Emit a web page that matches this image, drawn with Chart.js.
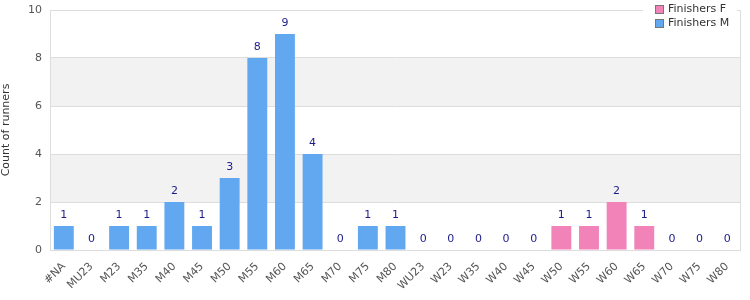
<!DOCTYPE html>
<html><head><meta charset="utf-8">
<script src="https://cdn.jsdelivr.net/npm/chart.js@4/dist/chart.umd.min.js"></script>
<style>html,body{margin:0;padding:0;background:#fff}#wrap{width:750px;height:300px;position:relative}</style>
</head><body><div id="wrap"><canvas id="c" width="750" height="300"></canvas></div>
<script>
const categories = ["#NA","MU23","M23","M35","M40","M45","M50","M55","M60","M65","M70","M75","M80","WU23","W23","W35","W40","W45","W50","W55","W60","W65","W70","W75","W80"];
const finishersM = [1,0,1,1,2,1,3,8,9,4,0,1,1,null,null,null,null,null,null,null,null,null,null,null,null];
const finishersF = [null,null,null,null,null,null,null,null,null,null,null,null,null,0,0,0,0,0,1,1,2,1,0,0,0];
const yTicks = [0,2,4,6,8,10];
const FONT = "'DejaVu Sans', Verdana, sans-serif";

const bgPlugin = {
  id: 'bg',
  beforeDraw(chart) {
    const {ctx, chartArea: a, scales: {y}} = chart;
    ctx.save();
    ctx.fillStyle = '#f2f2f2';
    [[2,4],[6,8]].forEach(([lo,hi]) => {
      const t = y.getPixelForValue(hi), b = y.getPixelForValue(lo);
      ctx.fillRect(a.left, t, a.right - a.left, b - t);
    });
    ctx.restore();
  },
  afterDatasetsDraw(chart) {
    const {ctx, chartArea: a, scales: {x, y}} = chart;
    ctx.save();
    ctx.strokeStyle = '#dddddd';
    ctx.lineWidth = 1;
    ctx.strokeRect(Math.round(a.left) + 0.5, Math.round(a.top) + 0.5, Math.round(a.right - a.left) - 1, Math.round(a.bottom - a.top));
    ctx.fillStyle = '#1c1c8c';
    ctx.font = '11px ' + FONT;
    ctx.textAlign = 'center';
    ctx.textBaseline = 'bottom';
    categories.forEach((c, i) => {
      const v = (finishersM[i] || 0) + (finishersF[i] || 0);
      const px = x.getPixelForValue(i);
      const py = y.getPixelForValue(v);
      ctx.fillText(String(v), px, py - 5);
    });
    ctx.fillStyle = '#ffffff';
    ctx.fillRect(643, 0, 94, 40);
    const items = [['Finishers F', '#f283b9'], ['Finishers M', '#61a8f1']];
    items.forEach(([t, col], k) => {
      const yy = 5 + k * 14;
      ctx.fillStyle = col;
      ctx.fillRect(655.5, yy + 0.5, 8, 8);
      ctx.strokeStyle = '#777777';
      ctx.strokeRect(655.5, yy + 0.5, 8, 8);
      ctx.fillStyle = '#333333';
      ctx.textAlign = 'left';
      ctx.textBaseline = 'middle';
      ctx.font = '11px ' + FONT;
      ctx.fillText(t, 668, yy + 4.5);
    });
    ctx.restore();
  }
};

new Chart(document.getElementById('c'), {
  type: 'bar',
  data: {
    labels: categories,
    datasets: [
      { label: 'Finishers F', data: finishersF, backgroundColor: '#f283b9', borderWidth: 0, inflateAmount: 0, barPercentage: 0.72, categoryPercentage: 1 },
      { label: 'Finishers M', data: finishersM, backgroundColor: '#61a8f1', borderWidth: 0, inflateAmount: 0, barPercentage: 0.72, categoryPercentage: 1 }
    ]
  },
  options: {
    responsive: false,
    animation: false,
    layout: { padding: { left: 0, right: 9, top: 10, bottom: 0 } },
    plugins: { legend: { display: false }, tooltip: { enabled: false } },
    scales: {
      x: {
        stacked: true,
        grid: { display: false },
        border: { display: false },
        ticks: { color: '#555555', font: { family: FONT, size: 11 }, minRotation: 45, maxRotation: 45, autoSkip: false, padding: 2 },
        afterFit(s) { s.height = 50; s.paddingLeft = 0; s.paddingRight = 0; }
      },
      y: {
        stacked: true,
        min: 0, max: 10,
        afterBuildTicks(s) { s.ticks = yTicks.map(v => ({ value: v })); },
        grid: { color: '#dddddd', drawTicks: false },
        border: { display: false },
        ticks: { color: '#555555', font: { family: FONT, size: 11 }, padding: 8 },
        title: { display: true, text: 'Count of runners', color: '#333333', font: { family: FONT, size: 11 }, padding: 0 },
        afterFit(s) { s.width = 50; s.paddingTop = 0; s.paddingBottom = 0; }
      }
    }
  },
  plugins: [bgPlugin]
});
</script></body></html>
